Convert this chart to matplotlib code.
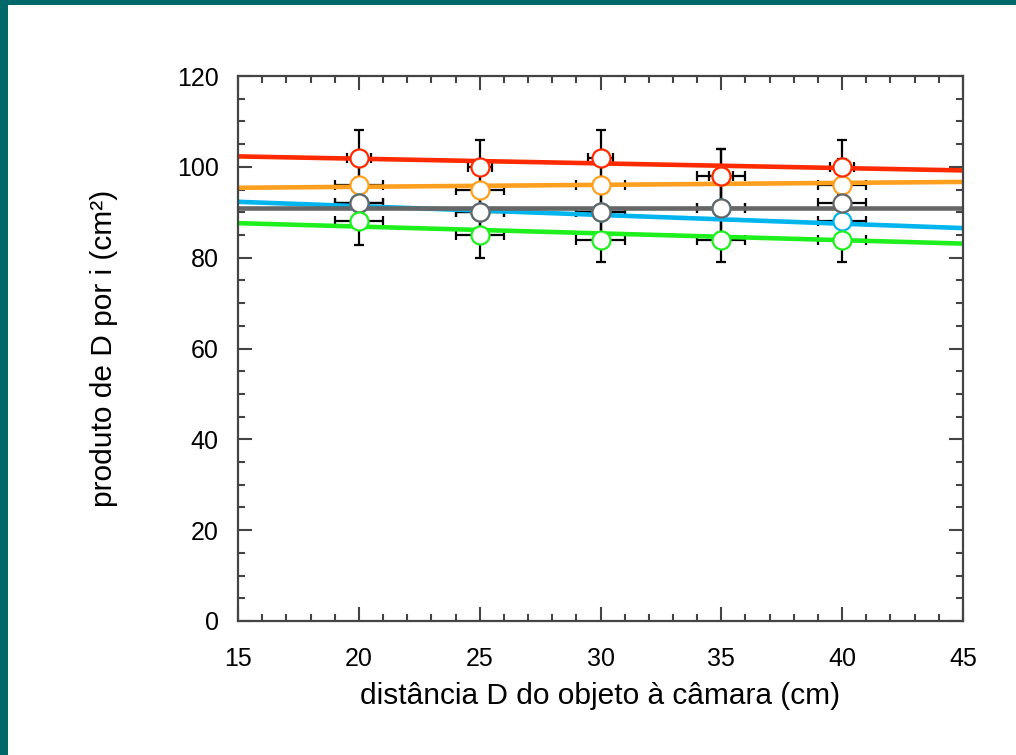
import numpy as np
import matplotlib
matplotlib.use("Agg")
from matplotlib import pyplot as plt
from matplotlib.patches import Rectangle

plt.rcParams['font.family'] = ['Liberation Sans', 'DejaVu Sans']

# distance D (cm) and product D*i (cm^2) for each series
dist = [20, 25, 30, 35, 40]

red_y = [102, 100, 102, 98, 100]
red_xerr = [0.5, 0.5, 0.5, 0.5, 0.5]
red_yerr = [6.1, 6.0, 6.1, 5.9, 6.0]

orange_y = [96, 95, 96, 98, 96]
orange_xerr = [1, 1, 1, 1, 1]
orange_yerr = [5.8, 5.7, 5.8, 5.9, 5.8]

blue_y = [92, 90, 90, 91, 88]
blue_xerr = [1, 1, 1, 1, 1]
blue_yerr = [5.5, 5.4, 5.4, 5.5, 5.3]

gray_y = [92, 90, 90, 91, 92]
gray_xerr = [1, 1, 1, 1, 1]
gray_yerr = [5.5, 5.4, 5.4, 5.5, 5.5]

green_y = [88, 85, 84, 84, 84]
green_xerr = [1, 1, 1, 1, 1]
green_yerr = [5.3, 5.1, 5.0, 5.0, 5.0]

# linear fits y = a*x + b
fit_slope = {'red': -0.103, 'orange': 0.043, 'blue': -0.193, 'gray': 0.0, 'green': -0.150}
fit_icept = {'red': 103.85, 'orange': 94.75, 'blue': 95.2, 'gray': 91.0, 'green': 89.85}

colors = {'red': '#ff2a00', 'orange': '#ff9f1f', 'blue': '#00b4ee',
          'gray': '#666666', 'green': '#1ef01e'}

series = {
    'orange': (orange_y, orange_xerr, orange_yerr),
    'red': (red_y, red_xerr, red_yerr),
    'blue': (blue_y, blue_xerr, blue_yerr),
    'gray': (gray_y, gray_xerr, gray_yerr),
    'green': (green_y, green_xerr, green_yerr),
}
line_order = ['red', 'orange', 'green', 'blue', 'gray']

fig = plt.figure(figsize=(10.16, 7.55), dpi=100)
ax = fig.add_axes([0.2343, 0.1775, 0.7135, 0.7218])

# teal frame on the left and top edges
fig.patches.append(Rectangle((0, 0), 8 / 1016, 1, transform=fig.transFigure,
                             facecolor='#006868', edgecolor='none', zorder=0))
fig.patches.append(Rectangle((0, 1 - 5 / 755), 1, 5 / 755, transform=fig.transFigure,
                             facecolor='#006868', edgecolor='none', zorder=0))

for name, (y, xe, ye) in series.items():
    ax.errorbar(dist, y, xerr=xe, yerr=ye, fmt='none', ecolor='black',
                elinewidth=1.6, capsize=3.3, capthick=1.6, zorder=1)

xs = np.array([15, 45])
for name in line_order:
    ax.plot(xs, fit_slope[name] * xs + fit_icept[name], color=colors[name],
            lw=3.3, solid_capstyle='butt', zorder=2)

for name, (y, xe, ye) in series.items():
    ax.plot(dist, y, 'o', ms=13, mfc='white', mec=colors[name], mew=1.6, zorder=3)

ax.set_xlim(15, 45)
ax.set_ylim(0, 120)
ax.set_xticks(range(15, 46, 5))
ax.set_xticks(range(15, 46, 1), minor=True)
ax.set_yticks(range(0, 121, 20))
ax.set_yticks(range(0, 121, 5), minor=True)

for s in ax.spines.values():
    s.set_color('#444444')
    s.set_linewidth(1.6)
ax.tick_params(which='both', direction='in', top=True, right=True,
               color='#444444', width=1.5, labelsize=18)
ax.tick_params(which='major', length=10)
ax.tick_params(which='minor', length=5)
ax.tick_params(axis='x', which='major', pad=19)
ax.tick_params(axis='y', which='major', pad=14)

ax.set_xlabel('distância D do objeto à câmara (cm)', fontsize=21.5, labelpad=8)
ax.set_ylabel('produto de D por i (cm²)', fontsize=21.5, labelpad=42)

fig.savefig('out.png', dpi=100)
